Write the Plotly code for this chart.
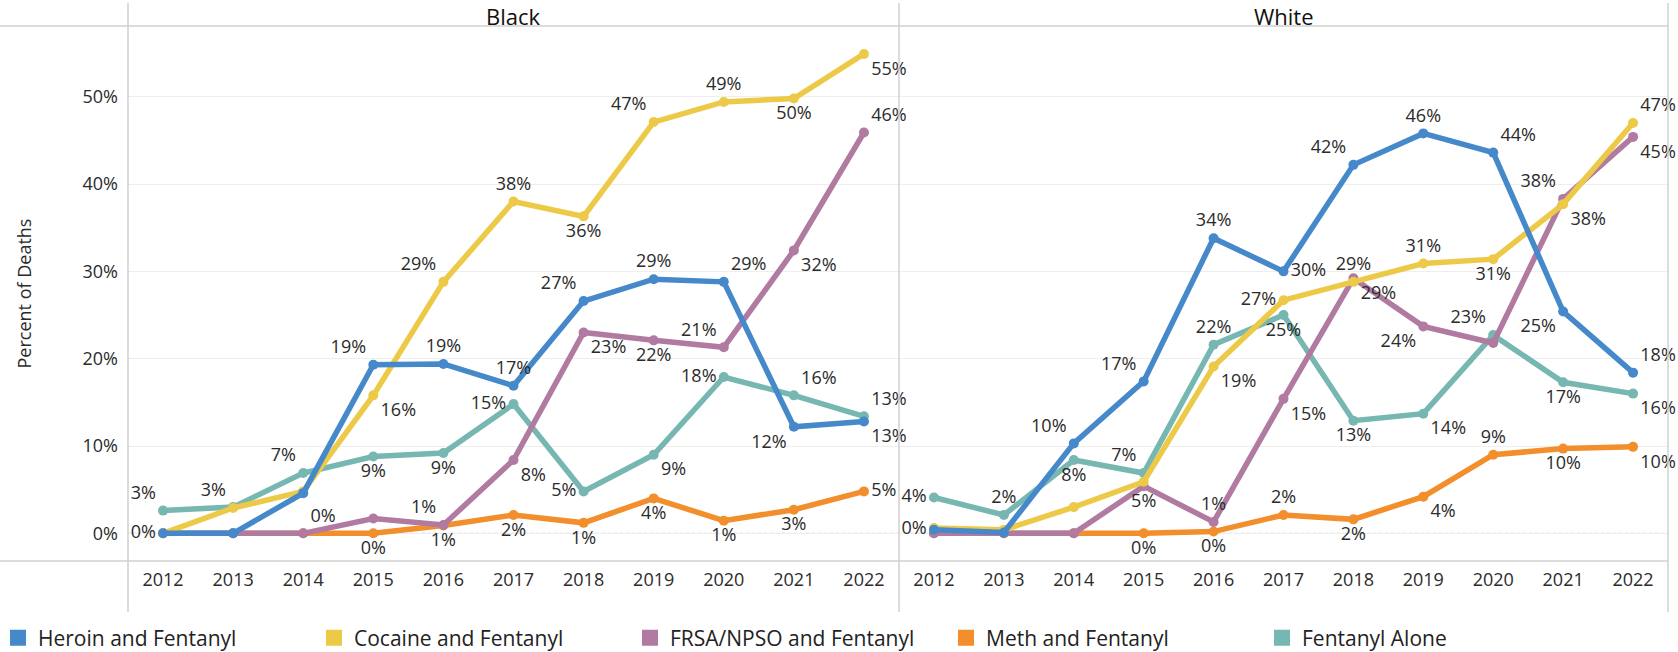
import plotly.graph_objects as go

years = list(range(2012, 2023))
series_names = ["Heroin and Fentanyl", "Cocaine and Fentanyl", "FRSA/NPSO and Fentanyl",
                "Meth and Fentanyl", "Fentanyl Alone"]
series_colors = ["#4589CA", "#EDC948", "#B07AA1", "#F28E2B", "#76B7B2"]
y_ticks = [0, 10, 20, 30, 40, 50]
panel_titles = ["Black", "White"]

# ---- Black ----
black_heroin = [0, 0, 4.6, 19.3, 19.4, 16.9, 26.6, 29.1, 28.8, 12.2, 12.8]
black_cocaine = [0, 2.9, 4.8, 15.8, 28.8, 38.0, 36.3, 47.1, 49.4, 49.8, 54.9]
black_frsa = [0, 0, 0, 1.7, 0.95, 8.4, 23.0, 22.1, 21.3, 32.4, 45.9]
black_meth = [0, 0, 0, 0, 0.9, 2.1, 1.2, 4.0, 1.45, 2.7, 4.8]
black_alone = [2.6, 3.0, 6.9, 8.8, 9.2, 14.8, 4.8, 9.0, 17.9, 15.8, 13.4]

# ---- White ----
white_heroin = [0.4, 0.1, 10.3, 17.4, 33.8, 30.0, 42.2, 45.8, 43.6, 25.4, 18.4]
white_cocaine = [0.6, 0.4, 3.0, 5.9, 19.1, 26.7, 28.8, 30.9, 31.4, 37.7, 47.0]
white_frsa = [0, 0, 0, 5.4, 1.3, 15.4, 29.2, 23.7, 21.8, 38.3, 45.4]
white_meth = [0, 0, 0, 0, 0.2, 2.1, 1.6, 4.2, 9.0, 9.7, 9.9]
white_alone = [4.1, 2.1, 8.4, 6.9, 21.6, 25.0, 12.9, 13.7, 22.7, 17.3, 16.0]

# label placement (None = label hidden)
TL, TC, TR = "top left", "top center", "top right"
ML, MR = "middle left", "middle right"
BL, BC, BR = "bottom left", "bottom center", "bottom right"
N = None

black_pos = [
    [ML, N, N, TL, TC, TC, TL, TC, TR, BL, BR],      # heroin
    [N, TL, N, BR, TL, TC, BC, TL, TC, BC, BR],      # cocaine
    [N, N, TR, N, TL, BR, BR, BC, TL, BR, TR],       # frsa
    [N, N, N, BC, BC, BC, BC, BC, BC, BC, MR],       # meth
    [TL, N, TL, BC, BC, ML, ML, BR, ML, TR, TR],     # alone
]
white_pos = [
    [ML, N, TL, TL, TC, MR, TL, TC, TR, BL, TR],     # heroin
    [N, N, N, N, BR, ML, TC, TC, BC, BR, TR],        # cocaine
    [N, N, N, BC, TC, BR, BR, BL, N, TL, BR],        # frsa
    [N, N, N, BC, BC, TC, BC, BR, TC, BC, BR],       # meth
    [ML, TC, BC, TL, TC, BC, BC, BR, TL, BC, BR],    # alone
]

panels = [
    ("x", "y", [black_heroin, black_cocaine, black_frsa, black_meth, black_alone], black_pos),
    ("x2", "y2", [white_heroin, white_cocaine, white_frsa, white_meth, white_alone], white_pos),
]

FONT = "Open Sans, Noto Sans, sans-serif"
TXT = "#2b2b2b"

fig = go.Figure()

# legend-only entries (square swatches)
for name, col in zip(series_names, series_colors):
    fig.add_trace(go.Scatter(x=[None], y=[None], mode="markers", name=name,
                             marker=dict(symbol="square", size=17, color=col),
                             showlegend=True, hoverinfo="skip"))

draw_order = [4, 3, 2, 1, 0]
for xa, ya, vals, pos in panels:
    for i in draw_order:
        v = vals[i]
        p = pos[i]
        texts = [f"{round(val)}%" if pp else "" for val, pp in zip(v, p)]
        tpos = [pp if pp else "top center" for pp in p]
        fig.add_trace(go.Scatter(
            x=years, y=v, mode="lines+markers+text", name=series_names[i],
            line=dict(color=series_colors[i], width=5.5),
            marker=dict(color=series_colors[i], size=10),
            text=texts, textposition=tpos,
            textfont=dict(family=FONT, size=18, color=TXT),
            cliponaxis=False, showlegend=False, xaxis=xa, yaxis=ya))

W, H = 1678, 652
L, R, T, B = 128, 10, 26, 91
pw, ph = W - L - R, H - T - B
split = (899 - L) / pw

def px(xp):
    return (xp - L) / pw

def py(yp):
    return (H - B - yp) / ph

yr = [-3.17, 58.1]
axis_common = dict(range=[2011.5, 2022.5], tickvals=years, ticktext=[str(y) for y in years],
                   showgrid=False, zeroline=False, showline=False, ticks="",
                   ticklabelstandoff=6, tickfont=dict(family=FONT, size=18, color=TXT))
fig.update_layout(
    xaxis=dict(domain=[0, split], **axis_common),
    xaxis2=dict(domain=[split, 1], anchor="y2", **axis_common),
    yaxis=dict(range=yr, tickvals=y_ticks, ticktext=[f"{t}%" for t in y_ticks],
               showgrid=True, gridcolor="#EEEEEE", gridwidth=1, zeroline=False,
               showline=False, ticks="", ticklabelstandoff=9,
               tickfont=dict(family=FONT, size=18, color=TXT)),
    yaxis2=dict(range=yr, matches="y", anchor="x2", tickvals=y_ticks, showticklabels=False,
                showgrid=True, gridcolor="#EEEEEE", gridwidth=1, zeroline=False,
                showline=False, ticks=""),
)

line_col = "#D0D0D0"
shapes = [
    dict(type="line", xref="paper", yref="paper", x0=px(0), x1=1, y0=1, y1=1,
         line=dict(color=line_col, width=1.5)),
    dict(type="line", xref="paper", yref="paper", x0=px(0), x1=1, y0=0, y1=0,
         line=dict(color=line_col, width=1.5)),
]
for xv in [0, split, 1]:
    shapes.append(dict(type="line", xref="paper", yref="paper", x0=xv, x1=xv,
                       y0=py(612), y1=py(3), line=dict(color=line_col, width=1.5)))
for xr in ["x domain", "x2 domain"]:
    shapes.append(dict(type="line", xref=xr, yref="y", x0=0, x1=1, y0=0, y1=0,
                       line=dict(color="#BBBBBB", width=1, dash="dot"), layer="below"))

annotations = [
    dict(text=panel_titles[0], x=split / 2, y=py(16), xref="paper", yref="paper",
         showarrow=False, font=dict(family=FONT, size=22, color="#111111"),
         xanchor="center", yanchor="middle"),
    dict(text=panel_titles[1], x=(split + 1) / 2, y=py(16), xref="paper", yref="paper",
         showarrow=False, font=dict(family=FONT, size=22, color="#111111"),
         xanchor="center", yanchor="middle"),
    dict(text="Percent of Deaths", x=px(23), y=0.5, xref="paper", yref="paper",
         showarrow=False, textangle=-90, font=dict(family=FONT, size=18, color=TXT),
         xanchor="center", yanchor="middle"),
]

fig.update_layout(
    width=W, height=H,
    margin=dict(l=L, r=R, t=T, b=B, pad=0, autoexpand=False),
    paper_bgcolor="white", plot_bgcolor="white",
    shapes=shapes, annotations=annotations,
    showlegend=True,
    legend=dict(orientation="h", x=px(-2), y=py(638), xanchor="left", yanchor="middle",
                entrywidth=271, entrywidthmode="pixels",
                font=dict(family=FONT, size=21, color="#222222"),
                bgcolor="rgba(0,0,0,0)", itemclick=False),
    font=dict(family=FONT),
)

fig.write_html("out.html", config={"displayModeBar": False},
               post_script="document.body.style.margin='0';")
